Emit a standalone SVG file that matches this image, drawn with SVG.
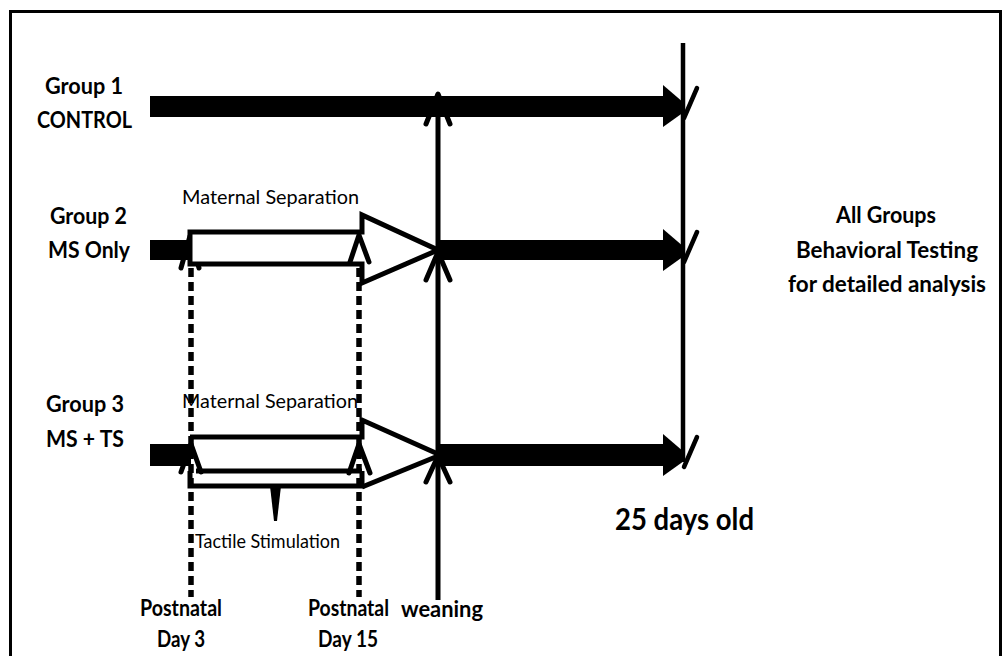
<svg xmlns="http://www.w3.org/2000/svg" width="1005" height="656" viewBox="0 0 1005 656">
<style>
.b{font-family:Lato,'Liberation Sans',sans-serif;font-weight:bold;font-size:23px;fill:#000}
.big{font-family:Lato,'Liberation Sans',sans-serif;font-weight:bold;font-size:31px;fill:#000}
.r{font-family:Lato,'Liberation Sans',sans-serif;font-size:19px;fill:#000}
.bar{fill:#000}
.line{stroke:#000;stroke-width:5;fill:none}
.dash{stroke:#000;stroke-width:5.5;stroke-dasharray:9 5;fill:none}
.hollow{stroke:#000;stroke-width:5;fill:#fff;stroke-linejoin:miter}
.tip{stroke:#000;stroke-width:5;fill:none;stroke-linecap:round;stroke-linejoin:round}
.head{fill:#000}
.flick{stroke:#000;stroke-width:4.5;stroke-linecap:round;fill:none}
</style>
<rect x="0" y="0" width="1005" height="656" fill="#fff"/>
<rect x="10.5" y="11.5" width="990" height="670" fill="none" stroke="#000" stroke-width="3"/>

<g id="labels">
<g id="group1-label"><text class="b" x="45" y="94" textLength="78" lengthAdjust="spacingAndGlyphs">Group 1</text><text class="b" x="37" y="128" textLength="95" lengthAdjust="spacingAndGlyphs">CONTROL</text></g>
<g id="group2-label"><text class="b" x="50" y="224" textLength="77" lengthAdjust="spacingAndGlyphs">Group 2</text><text class="b" x="48" y="258" textLength="82" lengthAdjust="spacingAndGlyphs">MS Only</text></g>
<g id="group3-label"><text class="b" x="46" y="412" textLength="78" lengthAdjust="spacingAndGlyphs">Group 3</text><text class="b" x="46" y="447" textLength="78" lengthAdjust="spacingAndGlyphs">MS + TS</text></g>
<g id="ms-label-2"><text class="r" x="182" y="204" textLength="177" lengthAdjust="spacingAndGlyphs">Maternal Separation</text></g>
<g id="ms-label-3"><text class="r" x="182" y="408" textLength="176" lengthAdjust="spacingAndGlyphs">Maternal Separation</text></g>
<g id="ts-label"><text class="r" x="195" y="548" textLength="145" lengthAdjust="spacingAndGlyphs">Tactile Stimulation</text></g>
<g id="pnd3-label"><text class="b" x="140" y="616" textLength="82" lengthAdjust="spacingAndGlyphs">Postnatal</text><text class="b" x="157" y="647" textLength="48" lengthAdjust="spacingAndGlyphs">Day 3</text></g>
<g id="pnd15-label"><text class="b" x="308" y="616" textLength="81" lengthAdjust="spacingAndGlyphs">Postnatal</text><text class="b" x="318" y="647" textLength="60" lengthAdjust="spacingAndGlyphs">Day 15</text></g>
<g id="weaning-label"><text class="b" x="401" y="617" textLength="82" lengthAdjust="spacingAndGlyphs">weaning</text></g>
<g id="age-label"><text class="big" x="615" y="530" textLength="139" lengthAdjust="spacingAndGlyphs">25 days old</text></g>
<g id="testing-label">
<text class="b" x="836" y="223" textLength="100" lengthAdjust="spacingAndGlyphs">All Groups</text>
<text class="b" x="796" y="258" textLength="182" lengthAdjust="spacingAndGlyphs">Behavioral Testing</text>
<text class="b" x="788" y="292" textLength="198" lengthAdjust="spacingAndGlyphs">for detailed analysis</text>
</g>
</g>

<g id="connectors">
<path class="dash" d="M191,268 V597"/>
<path class="dash" d="M359,268 V597"/>

<g id="group1-bar">
<rect class="bar" x="150" y="96" width="515" height="21"/>
<polygon class="head" points="663,85 684,103 684,112 663,127"/>
<path class="flick" d="M697,88 L684,118"/>
</g>

<g id="group2-bar">
<rect class="bar" x="150" y="240" width="41" height="20"/>
<rect class="bar" x="436" y="240" width="229" height="20"/>
<polygon class="head" points="663,229 684,247 684,256 663,271"/>
<path class="flick" d="M697,232 L684,262"/>
<path class="tip" d="M181,268 L190,236 L199,268"/>
<path class="hollow" d="M190,232 H362 V215 L438,250 L362,283 V264 H190 Z"/>
<path class="tip" d="M350,262 L359,235 L369,262"/>
</g>

<g id="group3-bar">
<rect class="bar" x="150" y="444" width="41" height="22"/>
<rect class="bar" x="436" y="444" width="229" height="22"/>
<polygon class="head" points="663,434 684,452 684,461 663,476"/>
<path class="flick" d="M697,437 L684,467"/>
<path class="line" d="M190,437 H362 V420 L438,454"/>
<path class="line" d="M438,456 L362,487"/>
<path class="line" d="M196,471 H362"/>
<path class="line" d="M190,471 V486 H362 V471"/>
<polygon class="head" points="270,486 281,486 277,521 274,521"/>
<path class="tip" d="M181,472 L191,444 L201,472"/>
<path class="tip" d="M349,473 L359,444 L370,473"/>
</g>

<g id="weaning-arrow">
<path class="line" d="M438,600 V95"/>
<path class="tip" d="M426,124 L438,94 L450,124"/>
<path class="tip" d="M426,280 L438,252 L450,280"/>
<path class="tip" d="M426,482 L438,456 L450,482"/>
</g>

<g id="day25-line">
<path d="M683,43 V462" stroke="#000" stroke-width="4.5" fill="none"/>
</g>
</g>
</svg>
